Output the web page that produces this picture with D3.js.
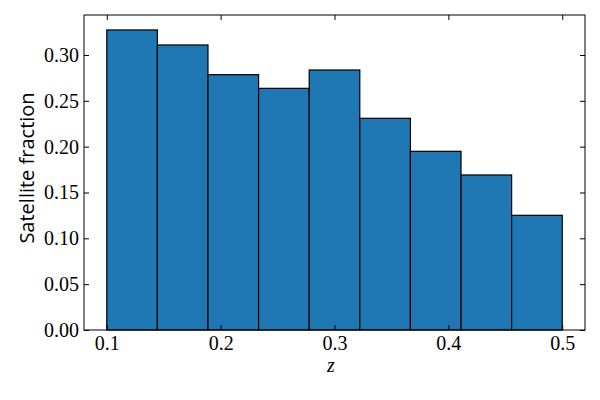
<!DOCTYPE html>
<html><head><meta charset="utf-8">
<script src="https://cdn.jsdelivr.net/npm/d3@7"></script>
<style>body{margin:0;background:#fff}</style>
</head><body>
<svg id="c" width="600" height="400"></svg>
<script>
const binEdges = [0.1, 0.14444, 0.18889, 0.23333, 0.27778, 0.32222, 0.36667, 0.41111, 0.45556, 0.5];
const fractions = [0.3273, 0.3109, 0.2785, 0.2636, 0.2836, 0.2309, 0.1949, 0.1691, 0.1251];
const xTicks = [0.1, 0.2, 0.3, 0.4, 0.5];
const yTicks = [0, 0.05, 0.10, 0.15, 0.20, 0.25, 0.30];

const SERIF = "Liberation Serif, serif";
const SANS = "Open Sans, sans-serif";
const svg = d3.select("#c");
const L = 84, R = 585, T = 15, B = 330;
const x = d3.scaleLinear().domain([0.08, 0.52]).range([L, R]);
const y = d3.scaleLinear().domain([0, 0.3436]).range([B, T]);

const bars = fractions.map((v, i) => ({x0: binEdges[i], x1: binEdges[i+1], v}));
svg.append("g").selectAll("rect").data(bars).join("rect")
  .attr("x", d => x(d.x0)).attr("width", d => x(d.x1) - x(d.x0))
  .attr("y", d => y(d.v)).attr("height", d => y(0) - y(d.v))
  .attr("fill", "#1f77b4").attr("stroke", "#000").attr("stroke-width", 1.2);

function styleAxis(g) {
  g.attr("font-family", SERIF).attr("font-size", 20);
  g.select(".domain").remove();
  g.selectAll(".tick line").attr("stroke", "#000").attr("stroke-width", 1);
  g.selectAll(".tick text").attr("fill", "#000");
}
svg.append("g").attr("transform", `translate(0,${B})`)
  .call(d3.axisBottom(x).tickValues(xTicks).tickSize(-5).tickPadding(6).tickFormat(d3.format(".1f")))
  .call(styleAxis);
svg.append("g").attr("transform", `translate(0,${T})`)
  .call(d3.axisTop(x).tickValues(xTicks).tickSize(-5).tickFormat(""))
  .call(styleAxis);
svg.append("g").attr("transform", `translate(${L},0)`)
  .call(d3.axisLeft(y).tickValues(yTicks).tickSize(-5).tickPadding(5).tickFormat(d3.format(".2f")))
  .call(styleAxis);
svg.append("g").attr("transform", `translate(${R},0)`)
  .call(d3.axisRight(y).tickValues(yTicks).tickSize(-5).tickFormat(""))
  .call(styleAxis);

svg.append("rect").attr("x", L).attr("y", T).attr("width", R - L).attr("height", B - T)
  .attr("fill", "none").attr("stroke", "#000").attr("stroke-width", 1);

svg.append("text").attr("x", 331).attr("y", 372).attr("text-anchor", "middle")
  .attr("font-family", SERIF).attr("font-style", "italic").attr("font-size", 20).text("z");
svg.append("text").attr("transform", "translate(34,168) rotate(-90)").attr("text-anchor", "middle")
  .attr("font-family", SANS).attr("font-size", 20).text("Satellite fraction");
</script>
</body></html>
